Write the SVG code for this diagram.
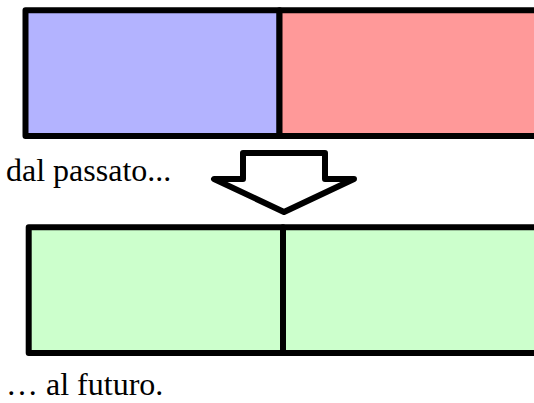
<svg xmlns="http://www.w3.org/2000/svg" width="534" height="403" viewBox="0 0 534 403">
<style>
.box{stroke:#000;stroke-width:6;stroke-linejoin:round}
.lbl{font-family:"Liberation Serif","Times New Roman",serif;font-size:32px;fill:#000}
</style>
<rect width="534" height="403" fill="#fff"/>
<g id="past">
<rect class="box" x="25.5" y="10.3" width="254" height="125.7" fill="#b3b3ff"/>
<rect class="box" x="279.5" y="10.3" width="258" height="125.7" fill="#ff9999"/>
</g>
<g id="future">
<rect class="box" x="28.7" y="227.3" width="254.3" height="125.7" fill="#ccffcc"/>
<rect class="box" x="283" y="227.3" width="258" height="125.7" fill="#ccffcc"/>
</g>
<g id="connectors">
<path d="M243 153 L325 153 L325 179 L354 179 L284 212 L214 179 L243 179 Z" fill="#fff" stroke="#000" stroke-width="6" stroke-linejoin="round"/>
</g>
<g id="labels">
<text class="lbl" x="6" y="181">dal passato...</text>
<text class="lbl" x="6" y="395">… al futuro.</text>
</g>
</svg>
